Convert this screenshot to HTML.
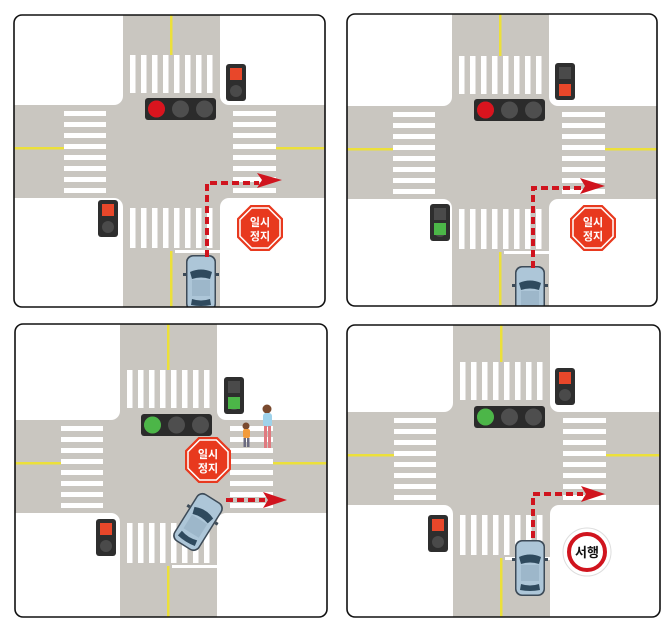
<!DOCTYPE html>
<html><head><meta charset="utf-8"><style>
html,body{margin:0;padding:0;background:#fff;width:670px;height:625px;overflow:hidden;}
svg{display:block;}
text{font-family:"Liberation Sans","Noto Sans CJK KR",sans-serif;font-weight:bold;}
</style></head><body>
<svg width="670" height="625" viewBox="0 0 670 625" xmlns="http://www.w3.org/2000/svg">
<defs>
  <clipPath id="c1"><rect x="14" y="15" width="311" height="292" rx="8"/></clipPath>
  <clipPath id="c2"><rect x="347" y="14" width="310" height="292" rx="8"/></clipPath>
  <clipPath id="c3"><rect x="15" y="324" width="312" height="293" rx="8"/></clipPath>
  <clipPath id="c4"><rect x="347" y="325" width="313" height="292" rx="8"/></clipPath>
  <g id="road">
    <rect x="-112" y="-96" width="324" height="301" fill="#c9c6c0"/>
    <g fill="#fff">
      <path d="M-112 -96 H0 V-9 A9 9 0 0 1 -9 0 H-112 Z"/>
      <path d="M97 -96 H212 V0 H106 A9 9 0 0 1 97 -9 Z"/>
      <path d="M-112 93 H-9 A9 9 0 0 1 0 102 V205 H-112 Z"/>
      <path d="M106 93 H212 V205 H97 V102 A9 9 0 0 1 106 93 Z"/>
    </g>
    <g fill="#fff">
      <rect x="7" y="-50" width="5.5" height="38"/><rect x="18" y="-50" width="5.5" height="38"/><rect x="29" y="-50" width="5.5" height="38"/><rect x="40" y="-50" width="5.5" height="38"/><rect x="51" y="-50" width="5.5" height="38"/><rect x="62" y="-50" width="5.5" height="38"/><rect x="73" y="-50" width="5.5" height="38"/><rect x="84" y="-50" width="5.5" height="38"/>
      <rect x="7" y="103" width="5.5" height="40"/><rect x="18" y="103" width="5.5" height="40"/><rect x="29" y="103" width="5.5" height="40"/><rect x="40" y="103" width="5.5" height="40"/><rect x="51" y="103" width="5.5" height="40"/><rect x="62" y="103" width="5.5" height="40"/><rect x="73" y="103" width="5.5" height="40"/><rect x="84" y="103" width="5.5" height="40"/>
      <rect x="-59" y="6" width="42" height="5"/><rect x="-59" y="17" width="42" height="5"/><rect x="-59" y="28" width="42" height="5"/><rect x="-59" y="39" width="42" height="5"/><rect x="-59" y="50" width="42" height="5"/><rect x="-59" y="61" width="42" height="5"/><rect x="-59" y="72" width="42" height="5"/><rect x="-59" y="83" width="42" height="5"/>
      <rect x="110" y="6" width="43" height="5"/><rect x="110" y="17" width="43" height="5"/><rect x="110" y="28" width="43" height="5"/><rect x="110" y="39" width="43" height="5"/><rect x="110" y="50" width="43" height="5"/><rect x="110" y="61" width="43" height="5"/><rect x="110" y="72" width="43" height="5"/><rect x="110" y="83" width="43" height="5"/>
      <rect x="52" y="145" width="45" height="3"/>
    </g>
    <g fill="#ece03a">
      <rect x="47" y="-96" width="2.5" height="46"/>
      <rect x="47" y="146" width="2.5" height="59"/>
      <rect x="-112" y="42" width="53" height="2.5"/>
      <rect x="153" y="42" width="59" height="2.5"/>
    </g>
  </g>
  <g id="tl3">
    <rect x="0" y="0" width="71" height="22" rx="3" fill="#2b2b2b"/>
    <circle cx="11.5" cy="11" r="8.5" fill="#4e4e4e"/><circle cx="35.5" cy="11" r="8.5" fill="#4e4e4e"/><circle cx="59.5" cy="11" r="8.5" fill="#4e4e4e"/>
  </g>
  <g id="sig"><rect x="0" y="0" width="20" height="37" rx="3" fill="#2e2e2e"/><rect x="4" y="4" width="12" height="12" fill="#4a4a4a"/><circle cx="10" cy="27" r="6" fill="#4a4a4a"/></g>
  <g id="car">
    <rect x="0" y="0" width="30" height="56" rx="7" fill="#3d4b58"/>
    <rect x="1.5" y="1.5" width="27" height="53" rx="6" fill="#adc6d8"/>
    <path d="M4 17 Q15 12 26 17 L24 24 Q15 21 6 24 Z" fill="#2f4a5e"/>
    <rect x="6" y="25" width="18" height="16" fill="#9db7ca"/>
    <path d="M6 44 Q15 47 24 44 L25 50 Q15 52 5 50 Z" fill="#2f4a5e"/>
    <rect x="-3" y="18" width="3" height="3" fill="#3d4b58"/><rect x="30" y="18" width="3" height="3" fill="#3d4b58"/>
  </g>
  <g id="stop">
    <polygon points="-9.5,-23 9.5,-23 23,-9.5 23,9.5 9.5,23 -9.5,23 -23,9.5 -23,-9.5" fill="#e8391e"/>
    <polygon points="-8.3,-20 8.3,-20 20,-8.3 20,8.3 8.3,20 -8.3,20 -20,8.3 -20,-8.3" fill="none" stroke="#fff" stroke-width="1.5"/>
  </g>
</defs>

<g clip-path="url(#c1)">
  <g transform="translate(123,105)"><use href="#road"/>
    <use href="#tl3" x="22" y="-7"/><circle cx="33.5" cy="4" r="8.5" fill="#d9141e"/>
    <use href="#sig" x="103" y="-41"/><rect x="107" y="-37" width="12" height="12" fill="#e8472a"/>
    <use href="#sig" x="-25" y="95"/><rect x="-21" y="99" width="12" height="12" fill="#e8472a"/>
    <g transform="translate(137,123)"><use href="#stop"/><text x="0" y="-2" font-size="11" fill="#fff" text-anchor="middle">일시</text><text x="0" y="12" font-size="11" fill="#fff" text-anchor="middle">정지</text></g>
    <use href="#car" x="63" y="150"/>
    <path d="M84 152 V78 H136" fill="none" stroke="#d0141e" stroke-width="4" stroke-dasharray="7 4"/>
    <polygon points="134,68 159,75 134,83 139,75" fill="#d0141e"/>
  </g>
</g>
<rect x="14" y="15" width="311" height="292" rx="8" fill="none" stroke="#111" stroke-width="1.6"/>

<g clip-path="url(#c2)">
  <g transform="translate(452,106)"><use href="#road"/>
    <use href="#tl3" x="22" y="-7"/><circle cx="33.5" cy="4" r="8.5" fill="#d9141e"/>
    <use href="#sig" x="103" y="-43"/><rect x="107" y="-22" width="12" height="12" fill="#e8472a"/>
    <use href="#sig" x="-22" y="98"/><rect x="-18" y="117" width="12" height="12" fill="#4cb648"/>
    <g transform="translate(141,122)"><use href="#stop"/><text x="0" y="-2" font-size="11" fill="#fff" text-anchor="middle">일시</text><text x="0" y="12" font-size="11" fill="#fff" text-anchor="middle">정지</text></g>
    <use href="#car" x="63" y="160"/>
    <path d="M81 162 V82 H130" fill="none" stroke="#d0141e" stroke-width="4" stroke-dasharray="7 4"/>
    <polygon points="128,72 153,80 128,88 133,80" fill="#d0141e"/>
  </g>
</g>
<rect x="347" y="14" width="310" height="292" rx="8" fill="none" stroke="#111" stroke-width="1.6"/>

<g clip-path="url(#c3)">
  <g transform="translate(120,420)"><use href="#road"/>
    <use href="#tl3" x="21" y="-6"/><circle cx="32.5" cy="5" r="8.5" fill="#4cb648"/>
    <use href="#sig" x="104" y="-43"/><rect x="108" y="-23" width="12" height="12" fill="#4cb648"/>
    <use href="#sig" x="-24" y="99"/><rect x="-20" y="103" width="12" height="12" fill="#e8472a"/>
    <g transform="translate(88,40)"><use href="#stop"/><text x="0" y="-2" font-size="11" fill="#fff" text-anchor="middle">일시</text><text x="0" y="12" font-size="11" fill="#fff" text-anchor="middle">정지</text></g>
    <path d="M106 80 H145" fill="none" stroke="#d0141e" stroke-width="4" stroke-dasharray="7 4"/>
    <polygon points="143,72 167,80 143,88 148,80" fill="#d0141e"/>
    <g transform="translate(78,102) rotate(32)"><use href="#car" x="-15" y="-28"/></g>
    <circle cx="147" cy="-11" r="4.5" fill="#7a4a2e"/>
    <rect x="143" y="-7" width="9" height="14" rx="3" fill="#9fd2ea"/>
    <rect x="144" y="6" width="3" height="22" fill="#e07a7f"/><rect x="148" y="6" width="3" height="22" fill="#e07a7f"/>
    <circle cx="126" cy="6" r="3.5" fill="#7a4a2e"/>
    <rect x="123" y="9" width="7" height="9" rx="2" fill="#f29b3c"/>
    <rect x="123.5" y="18" width="2.5" height="9" fill="#6a6a80"/><rect x="127" y="18" width="2.5" height="9" fill="#6a6a80"/>
  </g>
</g>
<rect x="15" y="324" width="312" height="293" rx="8" fill="none" stroke="#111" stroke-width="1.6"/>

<g clip-path="url(#c4)">
  <g transform="translate(453,412)"><use href="#road"/>
    <use href="#tl3" x="21" y="-6"/><circle cx="32.5" cy="5" r="8.5" fill="#4cb648"/>
    <use href="#sig" x="102" y="-44"/><rect x="106" y="-40" width="12" height="12" fill="#e8472a"/>
    <use href="#sig" x="-25" y="103"/><rect x="-21" y="107" width="12" height="12" fill="#e8472a"/>
    <circle cx="134" cy="140" r="24" fill="#fff" stroke="#ddd" stroke-width="1"/>
    <circle cx="134" cy="140" r="18" fill="#fff" stroke="#d0141e" stroke-width="4"/>
    <text x="134" y="145" font-size="13" fill="#111" text-anchor="middle">서행</text>
    <use href="#car" x="62" y="128"/>
    <path d="M80 126 V82 H130" fill="none" stroke="#d0141e" stroke-width="4" stroke-dasharray="7 4"/>
    <polygon points="128,74 152,82 128,90 133,82" fill="#d0141e"/>
  </g>
</g>
<rect x="347" y="325" width="313" height="292" rx="8" fill="none" stroke="#111" stroke-width="1.6"/>
</svg>
</body></html>
